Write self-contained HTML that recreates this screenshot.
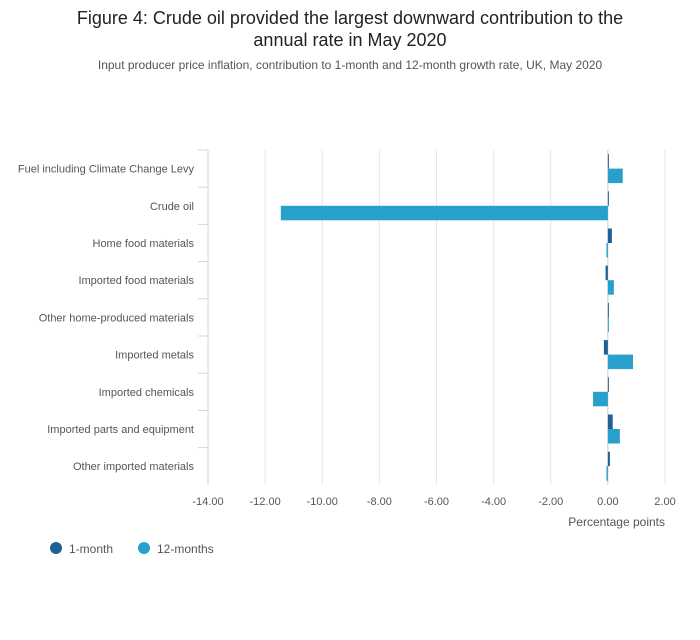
<!DOCTYPE html>
<html><head><meta charset="utf-8"><style>
body{margin:0;background:#fff;font-family:"Liberation Sans",sans-serif}
svg text{font-family:"Liberation Sans",sans-serif}
</style></head><body>
<svg width="700" height="635">
<text x="350" y="24" text-anchor="middle" font-size="18" fill="#222">Figure 4: Crude oil provided the largest downward contribution to the</text>
<text x="350" y="46" text-anchor="middle" font-size="18" fill="#222">annual rate in May 2020</text>
<text x="350" y="69" text-anchor="middle" font-size="12" fill="#555">Input producer price inflation, contribution to 1-month and 12-month growth rate, UK, May 2020</text>
<g id="grid"></g><g id="bars"></g><g id="axes"></g>
<text x="665" y="526" text-anchor="end" font-size="12" fill="#555">Percentage points</text>
<circle cx="56" cy="548" r="6" fill="#206095"/>
<text x="69" y="553" font-size="12" fill="#555">1-month</text>
<circle cx="144" cy="548" r="6" fill="#27a0cc"/>
<text x="157" y="553" font-size="12" fill="#555">12-months</text>
</svg>
<script>
const categories=["Fuel including Climate Change Levy","Crude oil","Home food materials","Imported food materials","Other home-produced materials","Imported metals","Imported chemicals","Imported parts and equipment","Other imported materials"];
const oneMonth=[0.03,0.03,0.14,-0.08,0.0,-0.14,0.02,0.17,0.07];
const twelveMonths=[0.52,-11.45,-0.05,0.21,0.01,0.88,-0.52,0.42,-0.05];
const ticks=[-14,-12,-10,-8,-6,-4,-2,0,2];
const tickLabels=["-14.00","-12.00","-10.00","-8.00","-6.00","-4.00","-2.00","0.00","2.00"];
const NS="http://www.w3.org/2000/svg";
const x0=208,x1=665,vmin=-14,vmax=2,yTop=150,rowH=37.2;
const X=v=>x0+(v-vmin)/(vmax-vmin)*(x1-x0);
function mk(tag,attrs,parent){const e=document.createElementNS(NS,tag);for(const k in attrs)e.setAttribute(k,attrs[k]);document.getElementById(parent).appendChild(e);return e;}
ticks.forEach((t,i)=>{
 const g=mk('line',{x1:X(t),x2:X(t),y1:yTop,y2:yTop+rowH*9,stroke:t===0?'#ccc':'#e6e6e6','stroke-width':1},'grid');
 
 
 const l=mk('text',{x:X(t),y:505,'text-anchor':'middle','font-size':11,fill:'#555'},'axes');
 l.textContent=tickLabels[i];
 
 
});
const ax=mk('line',{x1:x0,x2:x0,y1:yTop,y2:yTop+rowH*9,stroke:'#ccd6eb'},'axes');


categories.forEach((c,i)=>{
 const yc=yTop+rowH*i+rowH/2;
 const tk=mk('line',{x1:x0-10,x2:x0,y1:yTop+rowH*i,y2:yTop+rowH*i,stroke:'#ccd6eb'},'axes');
 
 
 const t=mk('text',{x:194,y:yc+4,'text-anchor':'end','font-size':11,fill:'#555'},'axes');
 t.textContent=c;
 
 
 const bh=14.5;
 [[oneMonth[i],'#206095',yc-bh,'bar-1-month'],[twelveMonths[i],'#27a0cc',yc,'bar-12-months']].forEach(([v,col,y,n])=>{
  const a=X(Math.min(0,v)),b=X(Math.max(0,v));
  const r=mk('rect',{x:a,y:y,width:Math.max(1,b-a),height:bh,fill:col},'bars');
  
  
 });
});
</script>
</body></html>
